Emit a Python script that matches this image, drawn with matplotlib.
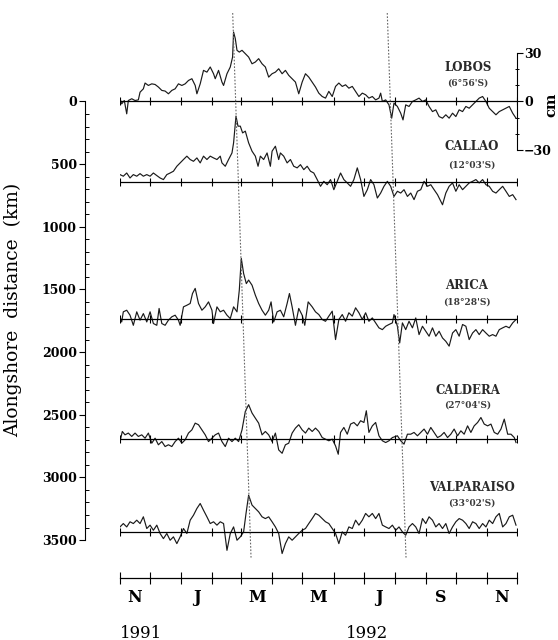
import numpy as np
import matplotlib
matplotlib.use('Agg')
import matplotlib.pyplot as plt
from matplotlib.transforms import blended_transform_factory

# stations, alongshore distance of the baseline (km) and sea level (cm)
stations = ['LOBOS', 'CALLAO', 'ARICA', 'CALDERA', 'VALPARAISO']
latitudes = ["(6°56'S)", "(12°03'S)", "(18°28'S)", "(27°04'S)", "(33°02'S)"]
distance_km = [0, 645, 1735, 2695, 3435]

# days since 1 Nov 1991
lobos_day = [0, 1.7, 4.3, 6.7, 8.3, 11.7, 15, 18.3, 20, 23.3, 25, 28.3, 31.7, 35, 38.3,
             41.7, 45, 48.3, 51.7, 55, 58.3, 61.7, 65, 68.3, 71.7, 75, 76.7, 80, 83.3,
             86.7, 90, 93.3, 95, 98.3, 101.7, 103.3, 106.7, 110, 112.3, 113.3, 115, 116.7,
             119, 121.7, 125, 128.3, 131.7, 135, 138.3, 141.7, 145, 148.3, 151.7, 155,
             158.3, 161.7, 165, 168.3, 171.7, 175, 178.3, 181.7, 185, 188.3, 191.7, 195,
             198.3, 201.7, 205, 208.3, 211.7, 215, 218.3, 221.7, 225, 228.3, 231.7, 235,
             238.3, 241.7, 245, 248.3, 251.7, 255, 258.3, 260, 261.7, 265, 268.3, 271,
             273.3, 276.7, 280, 282.3, 285, 288.3, 291.7, 295, 298.3, 301.7, 305, 308.3,
             311.7, 315, 318.3, 321.7, 325, 328.3, 331.7, 335, 338.3, 341.7, 345, 348.3,
             351.7, 355, 358.3, 361.7, 365, 368.3, 371.7, 375, 378.3, 381.7, 385, 388.3,
             391.7, 395]
lobos_cm = [1.7, -1.5, 0.6, -7.7, 0.6, 1.7, 0.6, 1.0, 5.8, 7.9, 11.5, 10, 11, 10.6, 9,
            6.9, 6.5, 4.8, 6.9, 7.9, 11, 10, 11, 13.1, 14.2, 10, 4.8, 11, 19.4,
            18.3, 21.5, 17.3, 14.2, 19.4, 12.1, 10, 17.3, 21.5, 27.7, 43.3, 39.2, 31.9,
            30.8, 31.9, 29.8, 27.7, 23.5, 24.6, 26.7, 23.5, 21.5, 15.2, 17.3, 18.3,
            20.4, 17.3, 19.4, 16.3, 14.2, 12.1, 4.8, 12.1, 17.3, 15.2, 12.1, 9.0,
            5.2, 3.1, 2.1, 6.3, 3.1, 9.4, 11.5, 9.4, 10.4, 8.3, 9.4, 6.3,
            3.1, 5.2, 4.2, 2.1, 3.1, 1.0, 2.1, 5.2, 0, 1.0, -2.1, -10.4,
            -1.0, -3.1, -7.3, -11.5, -2.1, -3.1, 0, 1.0, 2.1, 0, 1.0, -3.1,
            -6.3, -5.2, -9.4, -10.4, -8.3, -10.4, -7.3, -9.4, -5.2, -6.3, -3.1, -4.2,
            -2.1, 0, 2.1, 3.1, 0, -4.2, -6.3, -8.3, -6.3, -5.2, -4.2, -3.1,
            -7.3, -10.4]

callao_day = [0, 3.3, 6.7, 10, 13.3, 16.7, 20, 23.3, 26.7, 30, 33.3, 36.7, 40, 43.3, 46.7,
              50, 53.3, 56.7, 60, 63.3, 66.7, 70, 73.3, 76.7, 80, 83.3, 86.7, 90, 93.3,
              96.7, 100, 101.7, 105, 108.3, 111.7, 113.3, 115.7, 117.7, 120, 122.3, 125,
              128.3, 131.7, 135, 137.7, 140, 143.3, 146.7, 150, 151.7, 155, 158.3, 160,
              163.3, 166.7, 170, 173.3, 176.7, 180, 183.3, 186.7, 190, 193.3, 196.7, 200,
              203.3, 206.7, 210, 213.3, 216.7, 220, 223.3, 226.7, 230, 233.3, 236.7, 240,
              243.3, 246.7, 250, 253.3, 256.7, 260, 263.3, 266.7, 270, 273.3, 276.7, 280,
              283.3, 286.7, 290, 293.3, 296.7, 300, 303.3, 306.7, 310, 313.3, 316.7, 321.7,
              325, 328.3, 331.7, 335, 338.3, 341.7, 345, 348.3, 351.7, 355, 358.3, 361.7,
              365, 368.3, 371.7, 375, 378.3, 381.7, 385, 388.3, 391.7, 395]
callao_cm = [4.8, 3.8, 5.8, 2.7, 4.8, 3.8, 5.4, 3.8, 4.8, 3.8, 5.8, 4.2, 2.7, 1.7, 4.8,
             5.8, 6.9, 10, 12.1, 14.2, 16.3, 14.2, 13.1, 15.2, 12.1, 16.3, 14.2, 16.3, 15.2,
             14.2, 16.3, 12.1, 10, 14.2, 18.3, 24.6, 41.3, 35, 35, 30.8, 31.9,
             24.6, 19.4, 16.3, 10, 16.3, 14.2, 18.3, 10, 19.4, 22.5, 14.2, 18.3,
             16.3, 12.1, 14.2, 10, 9, 11, 7.9, 10, 6.9, 5.8, 1.7, -2.5,
             0.6, -1.5, 1.7, -4.6, 0.6, 5.8, 1.7, -0.4, -2.5, 1.7, 9, 1.7,
             -8.8, -4.6, 1.7, -1.5, -9.8, -6.7, -2.5, 0.6, -2.5, -8.8, -5.6, -6.7,
             -4.6, -8.8, -6.7, -10.8, -5.6, -4.6, 0.6, -2.5, -1.5, -4.6, -7.7, -14,
             -6.7, -2.5, -0.4, -5.6, -1.5, -4.6, -2.5, -0.4, 0.6, 1.7, -0.4, 1.7,
             -1.5, -2.5, -5.6, -6.7, -4.6, -2.5, -5.6, -8.8, -7.7, -10.8]

arica_day = [0, 1.7, 3.3, 6.7, 10, 13.3, 16.7, 20, 23.3, 26.7, 30, 33.3, 36.7, 39, 41.7,
             45, 48.3, 51.7, 55, 58.3, 60, 63.3, 66.7, 70, 72.3, 75, 78.3, 81.7, 85, 88.3,
             91.7, 93.3, 96.7, 100, 103.3, 106.7, 110, 113.3, 116.7, 119, 121, 123.3, 126,
             128.3, 131.7, 135, 138.3, 141.7, 145, 148.3, 150.7, 153.3, 156.7, 160, 163.3,
             166.7, 169, 171.7, 175, 178.3, 181.7, 184.3, 187.7, 191.7, 195, 198.3, 201.7,
             205, 208.3, 211.7, 215, 218.3, 221.7, 225, 228.3, 231.7, 235, 238.3, 241.7,
             245, 248.3, 251.7, 255, 258.3, 261.7, 265, 268.3, 271.7, 273.3, 276.7, 279,
             281.7, 285, 288.3, 291.7, 295, 298.3, 301.7, 305, 308.3, 311.7, 315, 318.3,
             321.7, 325, 328.3, 331.7, 335, 338.3, 341.7, 345, 348.3, 351.7, 355, 358.3,
             361.7, 365, 368.3, 371.7, 375, 378.3, 381.7, 385, 388.3, 391.7, 395]
arica_cm = [1.3, -1.9, 4.4, 5.4, 2.3, -4, 4.4, -0.8, 3.3, -1.9, 4.4, -2.9, -4, 6.5, -2.9,
            -4, -0.8, 1.3, 2.3, -0.8, -4, 7.5, 8.5, 9.6, 15.8, 19, 9.6, 5.4, 7.5, 10.6,
            5.4, -2.9, 7.5, 4.4, 5.4, 2.3, 0.2, 7.5, 4.4, 17.9, 37.7, 28.3, 22,
            24.2, 21, 14.8, 9.6, 5.4, 2.3, 5.4, 10.6, -1.9, 4.4, 5.4, 1.3,
            9.6, 15.8, 7.5, -4, 6.5, 2.3, -4, 10.6, 7.5, 4.4, 2.7, -0.4,
            -1.5, 1.7, 4.8, -12.9, -0.4, 2.7, -1.5, 3.8, 1.7, 6.9, 3.8, -0.4,
            3.8, -1.5, 0.6, -2.5, -5.6, -6.7, -4.6, -3.5, -2.5, 2.7, -4.6, -15,
            -2.5, -6.7, -1.5, -5.6, 0.6, -9.8, -4.6, -7.7, -10.8, -5.6, -10.8, -7.7,
            -11.9, -14, -17, -8.8, -6.7, -10.8, -3.5, -4.6, -12.9, -8.8, -6.7, -9.8,
            -6.7, -8.8, -10.8, -9.8, -10.8, -6.7, -5.6, -4.6, -5.6, -2.5, -0.4]

caldera_day = [0, 2.3, 5, 8.3, 11.7, 15, 18.3, 21.7, 25, 28.3, 31.7, 35, 38.3, 41.7, 45,
               48.3, 51.7, 55, 58.3, 61.7, 65, 68.3, 71.7, 75, 78.3, 81.7, 85, 88.3, 91.7,
               95, 98.3, 101.7, 105, 108.3, 111.7, 115, 118.3, 121.7, 125, 128.3, 131.7,
               135, 138.3, 141.7, 145, 148.3, 151.7, 155, 158.3, 161.7, 165, 168.3, 171.7,
               175, 178.3, 181.7, 185, 188.3, 191.7, 195, 198.3, 201.7, 205, 208.3, 211.7,
               215, 217.7, 220, 223.3, 226.7, 230, 233.3, 236.7, 240, 243.3, 245.7, 248.3,
               251.7, 255, 258.3, 261.7, 265, 268.3, 271.7, 276.7, 280, 283.3, 286.7, 290,
               293.3, 296.7, 300, 303.3, 306.7, 310, 313.3, 316.7, 320, 323.3, 326.7, 330,
               333.3, 336.7, 340, 343.3, 346.7, 350, 353.3, 356.7, 360, 363.3, 366.7, 370,
               373.3, 376.7, 380, 383.3, 386.7, 390, 393.3, 395]
caldera_cm = [-1.5, 4.8, 2.7, 3.8, 1.7, 3.8, 1.7, 2.7, 0.6, 3.8, -2.5, 0.6, -3.5, -1.5, -4.6,
              -3.5, -4.6, -1.5, 0.6, -2.5, -0.4, 3.8, 5.8, 10, 9, 5.8, 2.7, -1.5, 0.6,
              2.7, 3.8, -1.5, -4.6, 0.6, -1.5, 0.6, -1.5, 5.8, 17.3, 21.5, 16.3,
              13.1, 10, 2.7, 4.8, 2.7, -1.5, 3.8, -6.7, -8.8, -3.5, -2.5, 3.8,
              6.9, 9, 5.8, 3.8, 6.9, 4.8, 6.9, 4.8, 1.0, 0, -1.0, 0,
              -4.2, -9.4, 4.2, 7.3, 3.1, 9.4, 10.4, 8.3, 11.5, 10.4, 17.7, 4.2,
              8.3, 10.4, 2.1, -1.0, -2.1, -1.0, 1.0, 2.1, -1.0, -3.1, 3.1, 3.1,
              4.2, 2.1, 4.2, 6.3, 3.1, 7.3, 4.2, 1.0, 2.1, 4.2, 1.0, 3.1,
              6.3, 2.1, 5.2, 3.1, 8.3, 4.2, 8.3, 10.4, 13.5, 9.4, 8.3, 9.4,
              4.2, 3.1, 6.3, 12.5, 3.1, 3.1, 1.0, -2.1]

valpo_day = [0, 3.3, 6.7, 10, 13.3, 16.7, 20, 23.3, 26.7, 30, 33.3, 36.7, 40, 43.3, 46.7,
             50, 53.3, 56.7, 60, 63.3, 66.7, 70, 73.3, 76.7, 80, 83.3, 86.7, 90, 93.3,
             96.7, 100, 103.3, 106.7, 110, 113.3, 116.7, 120, 123.3, 125.7, 128.3, 131.7,
             135, 138.3, 141.7, 145, 148.3, 151.7, 155, 158.3, 161.7, 165, 168.3, 171.7,
             175, 178.3, 181.7, 185, 188.3, 191.7, 195, 198.3, 201.7, 205, 208.3, 211.7,
             215, 218.3, 221.7, 225, 228.3, 231.7, 235, 238.3, 241.7, 245, 248.3, 251.7,
             255, 258.3, 261.7, 265, 268.3, 271.7, 275, 278.3, 281.7, 285, 288.3, 291.7,
             295, 298.3, 301.7, 305, 308.3, 311.7, 315, 318.3, 321.7, 325, 328.3, 331.7,
             335, 338.3, 341.7, 345, 348.3, 351.7, 355, 358.3, 361.7, 365, 368.3, 371.7,
             375, 378.3, 381.7, 385, 388.3, 391.7, 395]
valpo_cm = [3.1, 5.2, 3.1, 6.3, 5.2, 7.3, 5.2, 9.4, 2.1, 4.2, 1.0, 4.2, -1.0, -4.2, -1.0,
            -5.2, -3.1, -7.3, -3.1, 2.1, -1.0, 7.3, 10.4, 14.6, 17.7, 13.5, 9.4, 5.2, 6.3,
            4.2, 6.3, 5.2, -11.5, -1.0, 3.1, -5.2, -3.1, 0, 11.5, 22.9, 16.7,
            14.6, 12.5, 9.4, 8.3, 9.4, 6.3, 3.1, -1.0, -13.5, -7.3, -3.1, -5.2,
            -3.1, -1.0, 1.0, 2.1, 5.2, 8.3, 11.5, 10.4, 8.3, 6.3, 5.2, 2.1,
            -1.0, -7.3, 0, -2.1, 3.1, 2.1, 7.3, 4.2, 7.3, 11.5, 9.4, 11.5,
            8.3, 11.5, 4.2, 3.1, 2.1, 4.2, 1.0, 3.1, 0, -2.1, 3.1, 5.2,
            3.1, -1.0, 8.3, 5.2, 9.4, 7.3, 3.1, 5.2, 2.1, 5.2, -1.0, 3.1,
            6.3, 8.3, 7.3, 5.2, 2.1, 6.3, 5.2, 2.1, 5.2, 3.1, 7.3, 5.2,
            9.4, 11.5, 3.1, 5.2, 9.4, 10.4, 4.2]

series_day = [lobos_day, callao_day, arica_day, caldera_day, valpo_day]
series_cm = [lobos_cm, callao_cm, arica_cm, caldera_cm, valpo_cm]

# month boundaries Nov 1991 .. Dec 1992
month_starts = ['1991-11-01', '1991-12-01', '1992-01-01', '1992-02-01', '1992-03-01',
                '1992-04-01', '1992-05-01', '1992-06-01', '1992-07-01', '1992-08-01',
                '1992-09-01', '1992-10-01', '1992-11-01', '1992-12-01']
month_letters = ['N', '', 'J', '', 'M', '', 'M', '', 'J', '', 'S', '', 'N']

# propagation lines (start day at top, end day at bottom)
wave_top_day = [112.4, 266.6]
wave_bottom_day = [130.7, 285.3]
wave_top_km = -706
wave_bottom_km = 3640

KM_PER_CM = 12.8

t0 = np.datetime64(month_starts[0])
month_days = np.array([(np.datetime64(m) - t0).astype(int) for m in month_starts])
mid_days = (month_days[:-1] + month_days[1:]) / 2.0

plt.rcParams['font.family'] = 'DejaVu Serif'

fig = plt.figure(figsize=(5.58, 6.40), dpi=100)
ax = fig.add_axes([120/558, 62/640, 397/558, 573/640])
ax.set_xlim(month_days[0], month_days[-1])
ax.set_ylim(3803, -770)

for i, name in enumerate(stations):
    base = distance_km[i]
    d = np.array(series_day[i])
    v = np.array(series_cm[i])
    ax.plot(d, base - v*KM_PER_CM, color='#1a1a1a', lw=0.85)
    ax.plot([month_days[0], month_days[-1]], [base, base], color='black', lw=0.9)
    ax.plot(month_days, [base]*len(month_days), ls='none', marker='|',
            ms=5.5, mew=0.8, color='black')

for x0, x1 in zip(wave_top_day, wave_bottom_day):
    ax.plot([x0, x1], [wave_top_km, wave_bottom_km], color='#666666', lw=0.8,
            ls=(0, (1.5, 1.5)))

# station labels
name_off = [-275, -282, -270, -392, -358]
lat_off = [-148, -138, -135, -273, -230]
label_day = [347, 351, 346, 347, 351]
for i, name in enumerate(stations):
    ax.text(label_day[i], distance_km[i] + name_off[i], name, ha='center', va='center',
            fontsize=8.5, fontweight='bold', color='#2a2a2a')
    ax.text(label_day[i], distance_km[i] + lat_off[i], latitudes[i], ha='center',
            va='center', fontsize=6.5, fontweight='bold', color='#3a3a3a')

# axes styling
for s in ['top', 'right']:
    ax.spines[s].set_visible(False)
ax.spines['left'].set_position(('outward', 25.2))
ax.spines['left'].set_bounds(0, 3500)
ax.spines['bottom'].set_bounds(month_days[0], month_days[-1])
ax.spines['left'].set_linewidth(0.8)
ax.spines['bottom'].set_linewidth(0.9)

ax.set_yticks(np.arange(0, 3501, 500))
ax.set_yticks(np.arange(0, 3501, 100), minor=True)
ax.tick_params(axis='y', which='major', direction='out', length=4, width=0.8,
               labelsize=9, pad=2)
ax.tick_params(axis='y', which='minor', direction='in', length=3, width=0.7)
for lab in ax.get_yticklabels():
    lab.set_fontweight('bold')
ax.set_ylabel('Alongshore  distance  (km)', fontsize=13.5)
ax.yaxis.set_label_coords(-0.247, 0.468)

ax.set_xticks(month_days)
ax.set_xticklabels([''] * len(month_days))
ax.set_xticks(mid_days, minor=True)
ax.set_xticklabels(month_letters, minor=True)
ax.tick_params(axis='x', which='major', direction='inout', length=8, width=0.8)
ax.tick_params(axis='x', which='minor', length=0, labelsize=11.5, pad=8)
for lab in ax.get_xticklabels(minor=True):
    lab.set_fontweight('bold')

tr = blended_transform_factory(ax.transData, fig.transFigure)
ax.text(21, 7/640, '1991', transform=tr, ha='center', va='center', fontsize=12)
ax.text(246, 7/640, '1992', transform=tr, ha='center', va='center', fontsize=12)

# sea level scale for the traces
sec = ax.secondary_yaxis('right', functions=(lambda km: -km / KM_PER_CM,
                                             lambda cm: -cm * KM_PER_CM))
sec.set_yticks([-30, 0, 30])
sec.set_yticks([-20, -10, 10, 20], minor=True)
sec.spines['right'].set_bounds(-30, 30)
sec.spines['right'].set_linewidth(0.8)
sec.tick_params(which='major', direction='out', length=4, width=0.8, labelsize=9, pad=1)
sec.tick_params(which='minor', direction='inout', length=3, width=0.7)
for lab in sec.get_yticklabels():
    lab.set_fontweight('bold')
fig.text(551/558, (640-105)/640, 'cm', rotation=90, ha='center', va='center',
         fontsize=10.5, fontweight='bold')

fig.savefig('out.png', dpi=100)
